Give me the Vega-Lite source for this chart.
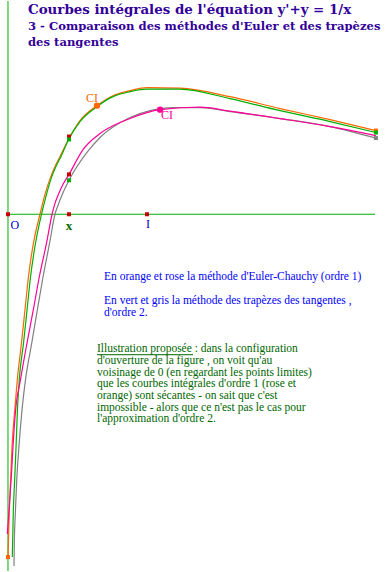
{
  "$schema": "https://vega.github.io/schema/vega-lite/v6.json",
  "width": 387,
  "height": 572,
  "autosize": {"type": "fit", "contains": "padding"},
  "padding": 0,
  "background": "white",
  "config": {"view": {"stroke": null}},
  "datasets": {
    "courbes": [
      {"serie": "orange", "i": 1, "x": 0.000, "y": -2.475},
      {"serie": "orange", "i": 2, "x": 0.009, "y": -2.151},
      {"serie": "orange", "i": 3, "x": 0.019, "y": -1.914},
      {"serie": "orange", "i": 4, "x": 0.029, "y": -1.676},
      {"serie": "orange", "i": 5, "x": 0.047, "y": -1.432},
      {"serie": "orange", "i": 6, "x": 0.067, "y": -1.194},
      {"serie": "orange", "i": 7, "x": 0.097, "y": -0.928},
      {"serie": "orange", "i": 8, "x": 0.122, "y": -0.691},
      {"serie": "orange", "i": 9, "x": 0.147, "y": -0.453},
      {"serie": "orange", "i": 10, "x": 0.183, "y": -0.209},
      {"serie": "orange", "i": 11, "x": 0.230, "y": 0.000},
      {"serie": "orange", "i": 12, "x": 0.266, "y": 0.144},
      {"serie": "orange", "i": 13, "x": 0.306, "y": 0.266},
      {"serie": "orange", "i": 14, "x": 0.338, "y": 0.345},
      {"serie": "orange", "i": 15, "x": 0.371, "y": 0.410},
      {"serie": "orange", "i": 16, "x": 0.439, "y": 0.547},
      {"serie": "orange", "i": 17, "x": 0.518, "y": 0.676},
      {"serie": "orange", "i": 18, "x": 0.640, "y": 0.784},
      {"serie": "orange", "i": 19, "x": 0.755, "y": 0.856},
      {"serie": "orange", "i": 20, "x": 0.878, "y": 0.892},
      {"serie": "orange", "i": 21, "x": 1.000, "y": 0.914},
      {"serie": "orange", "i": 22, "x": 1.237, "y": 0.910},
      {"serie": "orange", "i": 23, "x": 1.597, "y": 0.849},
      {"serie": "orange", "i": 24, "x": 1.957, "y": 0.763},
      {"serie": "orange", "i": 25, "x": 2.317, "y": 0.683},
      {"serie": "orange", "i": 26, "x": 2.647, "y": 0.604},
      {"serie": "vert", "i": 1, "x": 0.031, "y": -2.475},
      {"serie": "vert", "i": 2, "x": 0.038, "y": -2.151},
      {"serie": "vert", "i": 3, "x": 0.048, "y": -1.914},
      {"serie": "vert", "i": 4, "x": 0.058, "y": -1.676},
      {"serie": "vert", "i": 5, "x": 0.067, "y": -1.432},
      {"serie": "vert", "i": 6, "x": 0.081, "y": -1.194},
      {"serie": "vert", "i": 7, "x": 0.112, "y": -0.928},
      {"serie": "vert", "i": 8, "x": 0.137, "y": -0.691},
      {"serie": "vert", "i": 9, "x": 0.162, "y": -0.453},
      {"serie": "vert", "i": 10, "x": 0.198, "y": -0.209},
      {"serie": "vert", "i": 11, "x": 0.241, "y": 0.000},
      {"serie": "vert", "i": 12, "x": 0.277, "y": 0.144},
      {"serie": "vert", "i": 13, "x": 0.313, "y": 0.266},
      {"serie": "vert", "i": 14, "x": 0.345, "y": 0.345},
      {"serie": "vert", "i": 15, "x": 0.378, "y": 0.410},
      {"serie": "vert", "i": 16, "x": 0.439, "y": 0.547},
      {"serie": "vert", "i": 17, "x": 0.518, "y": 0.669},
      {"serie": "vert", "i": 18, "x": 0.640, "y": 0.777},
      {"serie": "vert", "i": 19, "x": 0.755, "y": 0.849},
      {"serie": "vert", "i": 20, "x": 0.878, "y": 0.885},
      {"serie": "vert", "i": 21, "x": 1.000, "y": 0.903},
      {"serie": "vert", "i": 22, "x": 1.237, "y": 0.903},
      {"serie": "vert", "i": 23, "x": 1.597, "y": 0.835},
      {"serie": "vert", "i": 24, "x": 1.957, "y": 0.748},
      {"serie": "vert", "i": 25, "x": 2.317, "y": 0.669},
      {"serie": "vert", "i": 26, "x": 2.647, "y": 0.590},
      {"serie": "gris", "i": 1, "x": 0.043, "y": -2.540},
      {"serie": "gris", "i": 2, "x": 0.045, "y": -2.396},
      {"serie": "gris", "i": 3, "x": 0.053, "y": -2.151},
      {"serie": "gris", "i": 4, "x": 0.063, "y": -1.914},
      {"serie": "gris", "i": 5, "x": 0.079, "y": -1.676},
      {"serie": "gris", "i": 6, "x": 0.099, "y": -1.432},
      {"serie": "gris", "i": 7, "x": 0.126, "y": -1.194},
      {"serie": "gris", "i": 8, "x": 0.171, "y": -0.928},
      {"serie": "gris", "i": 9, "x": 0.211, "y": -0.691},
      {"serie": "gris", "i": 10, "x": 0.252, "y": -0.453},
      {"serie": "gris", "i": 11, "x": 0.299, "y": -0.209},
      {"serie": "gris", "i": 12, "x": 0.338, "y": 0.000},
      {"serie": "gris", "i": 13, "x": 0.360, "y": 0.065},
      {"serie": "gris", "i": 14, "x": 0.388, "y": 0.137},
      {"serie": "gris", "i": 15, "x": 0.439, "y": 0.245},
      {"serie": "gris", "i": 16, "x": 0.568, "y": 0.446},
      {"serie": "gris", "i": 17, "x": 0.662, "y": 0.554},
      {"serie": "gris", "i": 18, "x": 0.878, "y": 0.698},
      {"serie": "gris", "i": 19, "x": 1.022, "y": 0.748},
      {"serie": "gris", "i": 20, "x": 1.187, "y": 0.770},
      {"serie": "gris", "i": 21, "x": 1.381, "y": 0.770},
      {"serie": "gris", "i": 22, "x": 1.597, "y": 0.741},
      {"serie": "gris", "i": 23, "x": 1.957, "y": 0.691},
      {"serie": "gris", "i": 24, "x": 2.317, "y": 0.633},
      {"serie": "gris", "i": 25, "x": 2.647, "y": 0.550},
      {"serie": "rose", "i": 1, "x": -0.005, "y": -2.309},
      {"serie": "rose", "i": 2, "x": 0.007, "y": -2.144},
      {"serie": "rose", "i": 3, "x": 0.017, "y": -2.000},
      {"serie": "rose", "i": 4, "x": 0.027, "y": -1.842},
      {"serie": "rose", "i": 5, "x": 0.034, "y": -1.712},
      {"serie": "rose", "i": 6, "x": 0.053, "y": -1.432},
      {"serie": "rose", "i": 7, "x": 0.090, "y": -1.194},
      {"serie": "rose", "i": 8, "x": 0.137, "y": -0.928},
      {"serie": "rose", "i": 9, "x": 0.182, "y": -0.691},
      {"serie": "rose", "i": 10, "x": 0.225, "y": -0.453},
      {"serie": "rose", "i": 11, "x": 0.277, "y": -0.209},
      {"serie": "rose", "i": 12, "x": 0.317, "y": 0.000},
      {"serie": "rose", "i": 13, "x": 0.338, "y": 0.079},
      {"serie": "rose", "i": 14, "x": 0.363, "y": 0.144},
      {"serie": "rose", "i": 15, "x": 0.396, "y": 0.216},
      {"serie": "rose", "i": 16, "x": 0.439, "y": 0.288},
      {"serie": "rose", "i": 17, "x": 0.542, "y": 0.470},
      {"serie": "rose", "i": 18, "x": 0.662, "y": 0.583},
      {"serie": "rose", "i": 19, "x": 0.878, "y": 0.691},
      {"serie": "rose", "i": 20, "x": 1.094, "y": 0.755},
      {"serie": "rose", "i": 21, "x": 1.381, "y": 0.773},
      {"serie": "rose", "i": 22, "x": 1.597, "y": 0.745},
      {"serie": "rose", "i": 23, "x": 1.957, "y": 0.691},
      {"serie": "rose", "i": 24, "x": 2.317, "y": 0.633},
      {"serie": "rose", "i": 25, "x": 2.647, "y": 0.568}
    ],
    "points": [
      {"c": "rouge", "forme": "square", "x": 0, "y": 0},
      {"c": "rouge", "forme": "square", "x": 0.439, "y": 0},
      {"c": "rouge", "forme": "square", "x": 1, "y": 0},
      {"c": "rouge", "forme": "square", "x": 0.439, "y": 0.561},
      {"c": "vert", "forme": "square", "x": 0.439, "y": 0.540},
      {"c": "rouge", "forme": "square", "x": 0.439, "y": 0.288},
      {"c": "vert", "forme": "square", "x": 0.439, "y": 0.245},
      {"c": "orange", "forme": "circle", "x": 0.640, "y": 0.784},
      {"c": "rose", "forme": "circle", "x": 1.094, "y": 0.755},
      {"c": "orange", "forme": "square", "x": 2.647, "y": 0.604},
      {"c": "vert", "forme": "square", "x": 2.647, "y": 0.590},
      {"c": "gris", "forme": "square", "x": 2.647, "y": 0.550},
      {"c": "orange", "forme": "square", "x": 0.0, "y": -2.475}
    ],
    "etiquettes": [
      {"g": "ci_orange", "t": "CI", "x": 0.604, "y": 0.842},
      {"g": "ci_rose", "t": "CI", "x": 1.144, "y": 0.719},
      {"g": "bleu", "t": "O", "x": 0.050, "y": -0.079},
      {"g": "bleu", "t": "I", "x": 1.007, "y": -0.072},
      {"g": "xvert", "t": "x", "x": 0.439, "y": -0.086}
    ],
    "titre": [
      {"t": "Courbes intégrales de l'équation y'+y = 1/x", "x": 0.144, "y": 1.448}
    ],
    "soustitre": [
      {"t": "3 - Comparaison des méthodes d'Euler et des trapèzes", "x": 0.144, "y": 1.329},
      {"t": "des tangentes", "x": 0.144, "y": 1.216}
    ],
    "texte_bleu": [
      {"t": "En orange et rose la méthode d'Euler-Chauchy (ordre 1)", "x": 0.691, "y": -0.475},
      {"t": "En vert et gris la méthode des trapèzes des tangentes ,", "x": 0.691, "y": -0.651},
      {"t": "d'ordre 2.", "x": 0.691, "y": -0.737}
    ],
    "texte_vert": [
      {"t": "Illustration proposée : dans la configuration", "x": 0.640, "y": -0.998},
      {"t": "d'ouverture de la figure , on voit qu'au", "x": 0.640, "y": -1.082},
      {"t": "voisinage de 0 (en regardant les points limites)", "x": 0.640, "y": -1.166},
      {"t": "que les courbes intégrales d'ordre 1 (rose et", "x": 0.640, "y": -1.250},
      {"t": "orange) sont sécantes - on sait que c'est", "x": 0.640, "y": -1.335},
      {"t": "impossible - alors que ce n'est pas le cas pour", "x": 0.640, "y": -1.419},
      {"t": "l'approximation d'ordre 2.", "x": 0.640, "y": -1.503}
    ],
    "souligne": [
      {"x": 0.640, "x2": 1.331, "y": -1.014}
    ]
  },
  "layer": [
    {
      "data": {"values": [{}]},
      "mark": {"type": "rule", "color": "#00b000", "strokeWidth": 1},
      "encoding": {
        "x": {"datum": 0, "type": "quantitative", "scale": {"domain": [-0.05755, 2.72662], "nice": false, "zero": false}, "axis": null},
        "y": {"datum": -2.57554, "type": "quantitative", "scale": {"domain": [-2.57554, 1.53957], "nice": false, "zero": false}, "axis": null},
        "y2": {"datum": 1.53957}
      }
    },
    {
      "data": {"values": [{}]},
      "mark": {"type": "rule", "color": "#00b000", "strokeWidth": 1},
      "encoding": {
        "x": {"datum": 0, "type": "quantitative", "scale": {"domain": [-0.05755, 2.72662], "nice": false, "zero": false}, "axis": null},
        "x2": {"datum": 2.64},
        "y": {"datum": 0, "type": "quantitative", "scale": {"domain": [-2.57554, 1.53957], "nice": false, "zero": false}, "axis": null}
      }
    },
    {
      "encoding": {
        "x": {"field": "x", "type": "quantitative", "scale": {"domain": [-0.05755, 2.72662], "nice": false, "zero": false}, "axis": null},
        "y": {"field": "y", "type": "quantitative", "scale": {"domain": [-2.57554, 1.53957], "nice": false, "zero": false}, "axis": null}
      },
      "layer": [
        {
          "data": {"name": "courbes"},
          "mark": {"type": "line", "strokeWidth": 1.2, "interpolate": "monotone"},
          "encoding": {
            "color": {"field": "serie", "type": "nominal", "legend": null,
              "scale": {"domain": ["orange", "vert", "gris", "rose", "rouge"], "range": ["#ff6600", "#00b000", "#808080", "#ff0099", "#cc0000"]}},
            "order": {"field": "i", "type": "quantitative"}
          }
        },
        {
          "data": {"name": "points"},
          "mark": {"type": "point", "filled": true, "opacity": 1, "size": 18},
          "encoding": {
            "color": {"field": "c", "type": "nominal", "legend": null,
              "scale": {"domain": ["orange", "vert", "gris", "rose", "rouge"], "range": ["#ff6600", "#00b000", "#808080", "#ff0099", "#cc0000"]}},
            "shape": {"field": "forme", "type": "nominal", "legend": null, "scale": {"domain": ["square", "circle"], "range": ["square", "circle"]}},
            "size": {"field": "forme", "type": "nominal", "legend": null, "scale": {"domain": ["square", "circle"], "range": [16, 40]}}
          }
        },
        {
          "data": {"name": "etiquettes"},
          "transform": [{"filter": "datum.g === 'ci_orange'"}],
          "mark": {"type": "text", "font": "Liberation Serif", "fontSize": 12, "color": "#ff6600", "align": "center", "baseline": "middle"},
          "encoding": {"text": {"field": "t"}}
        },
        {
          "data": {"name": "etiquettes"},
          "transform": [{"filter": "datum.g === 'ci_rose'"}],
          "mark": {"type": "text", "font": "Liberation Serif", "fontSize": 12, "color": "#ff0099", "align": "center", "baseline": "middle"},
          "encoding": {"text": {"field": "t"}}
        },
        {
          "data": {"name": "etiquettes"},
          "transform": [{"filter": "datum.g === 'bleu'"}],
          "mark": {"type": "text", "font": "Liberation Serif", "fontSize": 12, "color": "#0000cc", "align": "center", "baseline": "middle"},
          "encoding": {"text": {"field": "t"}}
        },
        {
          "data": {"name": "etiquettes"},
          "transform": [{"filter": "datum.g === 'xvert'"}],
          "mark": {"type": "text", "font": "Liberation Serif", "fontSize": 13, "fontWeight": "bold", "color": "#006600", "align": "center", "baseline": "middle"},
          "encoding": {"text": {"field": "t"}}
        },
        {
          "data": {"name": "titre"},
          "mark": {"type": "text", "font": "DejaVu Serif", "fontSize": 13.4, "fontWeight": "bold", "color": "#330099", "align": "left", "baseline": "alphabetic"},
          "encoding": {"text": {"field": "t"}}
        },
        {
          "data": {"name": "soustitre"},
          "mark": {"type": "text", "font": "DejaVu Serif", "fontSize": 11.6, "fontWeight": "bold", "color": "#330099", "align": "left", "baseline": "alphabetic"},
          "encoding": {"text": {"field": "t"}}
        },
        {
          "data": {"name": "texte_bleu"},
          "mark": {"type": "text", "font": "Liberation Serif", "fontSize": 11.5, "color": "#0000ff", "align": "left", "baseline": "alphabetic"},
          "encoding": {"text": {"field": "t"}}
        },
        {
          "data": {"name": "texte_vert"},
          "mark": {"type": "text", "font": "Liberation Serif", "fontSize": 11.5, "color": "#006600", "align": "left", "baseline": "alphabetic"},
          "encoding": {"text": {"field": "t"}}
        },
        {
          "data": {"name": "souligne"},
          "mark": {"type": "rule", "color": "#006600", "strokeWidth": 1},
          "encoding": {"x2": {"field": "x2"}}
        }
      ]
    }
  ]
}
